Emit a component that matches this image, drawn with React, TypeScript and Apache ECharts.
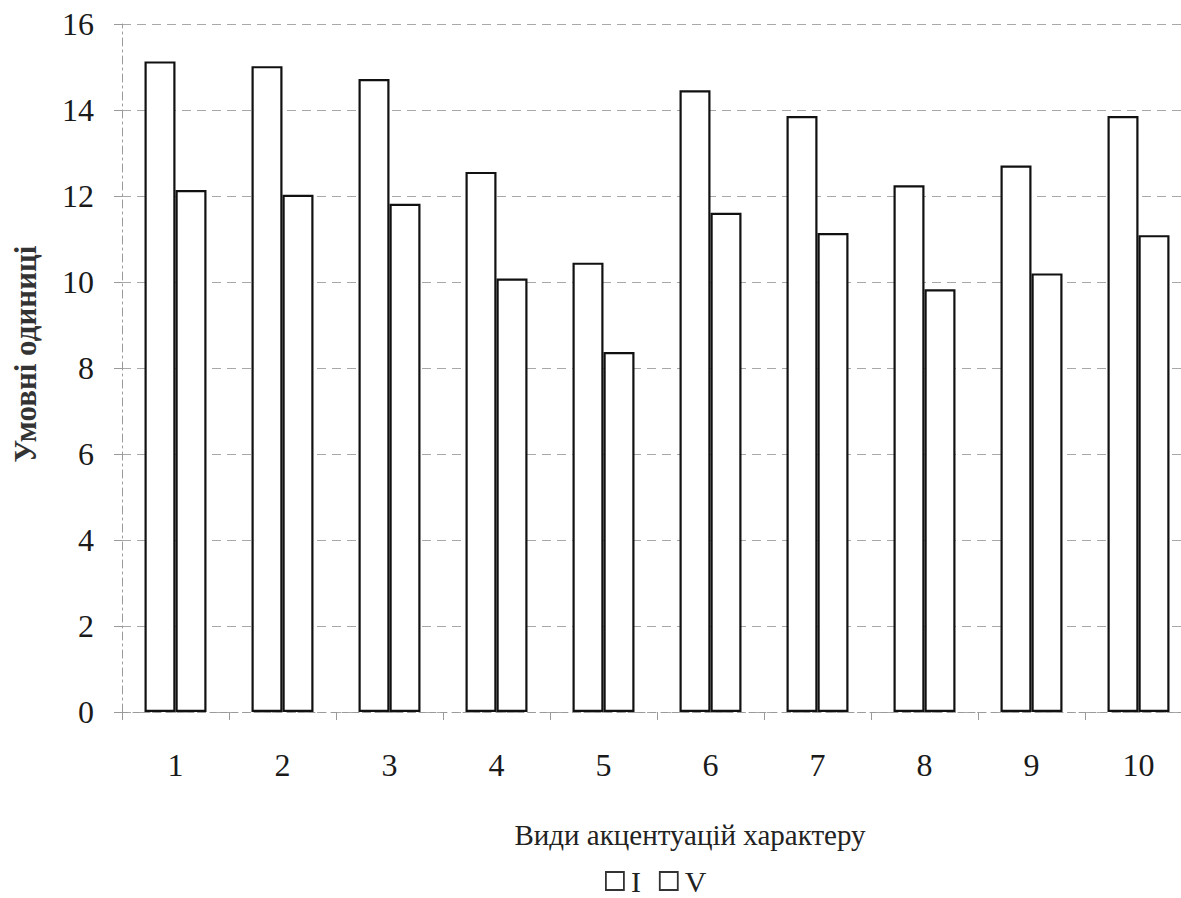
import React, { useEffect, useRef } from "react";
import * as echarts from "echarts";

const categories = ["1", "2", "3", "4", "5", "6", "7", "8", "9", "10"];
const seriesI = [15.13, 15.02, 14.72, 12.56, 10.45, 14.46, 13.86, 12.25, 12.71, 13.86];
const seriesV = [12.14, 12.03, 11.82, 10.08, 8.37, 11.61, 11.14, 9.83, 10.2, 11.09];
const seriesNames = ["I", "V"];
const yTitle = "Умовні одиниці";
const xTitle = "Види акцентуацій характеру";

const FONT = "'Liberation Serif', 'DejaVu Serif', serif";

export default function App() {
  const ref = useRef<HTMLDivElement>(null);
  useEffect(() => {
    if (!ref.current) return;
    const chart = echarts.init(ref.current, null, { renderer: "svg" });
    const barStyle = { color: "#ffffff", borderColor: "#111111", borderWidth: 2.2 };
    chart.setOption({
      animation: false,
      backgroundColor: "#ffffff",
      grid: { left: 122, top: 24, width: 1070, height: 688 },
      legend: {
        left: 600,
        top: 861,
        itemWidth: 18,
        itemHeight: 18,
        itemGap: 18,
        icon: "rect",
        textStyle: {
          fontFamily: FONT,
          fontSize: 30,
          lineHeight: 30,
          color: "#222",
          padding: [0, 0, 0, 2],
        },
        data: seriesNames.map((n) => ({
          name: n,
          itemStyle: { color: "#fff", borderColor: "#333", borderWidth: 1.8 },
        })),
      },
      xAxis: {
        type: "category",
        data: categories,
        axisLine: { show: true, lineStyle: { color: "#9a9a9a", type: [6, 5], width: 1 } },
        axisTick: { show: true, length: 8, lineStyle: { color: "#9a9a9a" } },
        axisLabel: { fontFamily: FONT, fontSize: 32, color: "#1a1a1a", margin: 37 },
        splitLine: { show: false },
      },
      yAxis: {
        type: "value",
        min: 0,
        max: 16,
        interval: 2,
        axisLine: { show: true, lineStyle: { color: "#9a9a9a", type: [8, 4, 2, 4], width: 1 } },
        axisTick: { show: true, length: 8, lineStyle: { color: "#9a9a9a" } },
        axisLabel: { fontFamily: FONT, fontSize: 32, color: "#1a1a1a", margin: 28 },
        splitLine: { show: true, lineStyle: { color: "#a8a8a8", type: [9, 6], width: 1 } },
      },
      graphic: [
        {
          type: "text",
          x: 25,
          y: 354,
          rotation: Math.PI / 2,
          style: {
            text: yTitle,
            fontFamily: FONT,
            fontSize: 31,
            fontWeight: "bold",
            fill: "#333",
            align: "center",
            verticalAlign: "middle",
          },
        },
        {
          type: "text",
          x: 690,
          y: 835,
          style: {
            text: xTitle,
            fontFamily: FONT,
            fontSize: 29,
            fill: "#222",
            align: "center",
            verticalAlign: "middle",
          },
        },
      ],
      series: [
        {
          name: seriesNames[0],
          type: "bar",
          data: seriesI,
          barWidth: 31,
          barGap: "0%",
          itemStyle: barStyle,
        },
        {
          name: seriesNames[1],
          type: "bar",
          data: seriesV,
          barWidth: 31,
          barGap: "0%",
          itemStyle: barStyle,
        },
      ],
    });
    return () => chart.dispose();
  }, []);
  return (
    <div
      style={{
        position: "fixed",
        left: 0,
        top: 0,
        width: 1181,
        height: 898,
        overflow: "hidden",
        background: "#fff",
      }}
    >
      <div ref={ref} style={{ width: 1200, height: 898 }} />
    </div>
  );
}
